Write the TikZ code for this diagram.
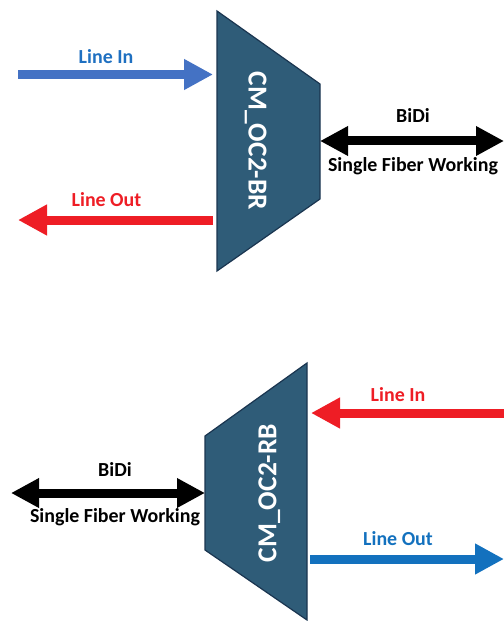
\documentclass[tikz,border=0pt]{standalone}
\usepackage{fontspec}
\setmainfont{Carlito}
\usetikzlibrary{arrows.meta}
\definecolor{muxfill}{HTML}{2F5C78}
\definecolor{muxedge}{HTML}{1A3550}
\definecolor{inblue}{HTML}{4472C4}
\definecolor{lblblue}{HTML}{1F70C1}
\definecolor{outblue}{HTML}{1371BE}
\definecolor{sigred}{HTML}{EE1D25}
\tikzset{
  mux/.style={fill=muxfill, draw=muxedge, line width=1.2bp, line join=miter},
  muxlabel/.style={text=white, font=\fontsize{27.5}{30}\selectfont\bfseries, inner sep=0pt, text depth=0pt},
  lbl/.style={font=\fontsize{20}{23}\selectfont\bfseries, inner sep=0pt, anchor=base},
  fat/.style={line width=9bp, -{Triangle[length=29bp,width=29bp]}},
  fatboth/.style={line width=9bp, {Triangle[length=28bp,width=28bp]}-{Triangle[length=28bp,width=28bp]}},
}
\begin{document}
\begin{tikzpicture}[x=1bp,y=-1bp]
\useasboundingbox (0,0) rectangle (504,621);

% upper multiplexer
\draw[mux] (217,11) -- (320,84) -- (320,199) -- (217,271) -- cycle;
\node[muxlabel, rotate=-90] (muxA) at (257.5,141) {CM\_OC2-BR};
\coordinate (aInEnd)  at (213,74.5);
\coordinate (aOutBeg) at (213,220);
\coordinate (aBidi)   at (320,141);
\coordinate (aInBeg)  at (18,74.5);
\coordinate (aOutEnd) at (18,220);
\coordinate (aFar)    at (504,141);

\draw[fat, draw=inblue, fill=inblue] (aInBeg) -- (aInEnd);
\draw[fat, draw=sigred, fill=sigred] (aOutBeg) -- (aOutEnd);
\draw[fatboth, draw=black, fill=black] (aBidi) -- (aFar);

\node[lbl, text=lblblue] (aInLbl)  at (106,63.3) {Line In};
\node[lbl, text=sigred]  (aOutLbl) at (106.5,206.7) {Line Out};
\node[lbl] (aBidiLbl) at (413,123) {BiDi};
\node[lbl] (aSfwLbl)  at (413,171.7) {Single Fiber Working};

% lower multiplexer
\draw[mux] (307,363) -- (307,620) -- (205,550) -- (205,436) -- cycle;
\node[muxlabel, rotate=90] (muxB) at (267.5,493) {CM\_OC2-RB};
\coordinate (bBidi)   at (205,493);
\coordinate (bFar)    at (11,493);
\coordinate (bInBeg)  at (504,413);
\coordinate (bInEnd)  at (311,413);
\coordinate (bOutBeg) at (310,559);
\coordinate (bOutEnd) at (504,559);

\draw[fatboth, draw=black, fill=black] (bFar) -- (bBidi);
\draw[fat, draw=sigred, fill=sigred] (bInBeg) -- (bInEnd);
\draw[fat, draw=outblue, fill=outblue] (bOutBeg) -- (bOutEnd);

\node[lbl] (bBidiLbl) at (115,476) {BiDi};
\node[lbl] (bSfwLbl)  at (115,522.7) {Single Fiber Working};
\node[lbl, text=sigred]  (bInLbl)  at (398,401.7) {Line In};
\node[lbl, text=outblue] (bOutLbl) at (398,545) {Line Out};
\end{tikzpicture}
\end{document}
